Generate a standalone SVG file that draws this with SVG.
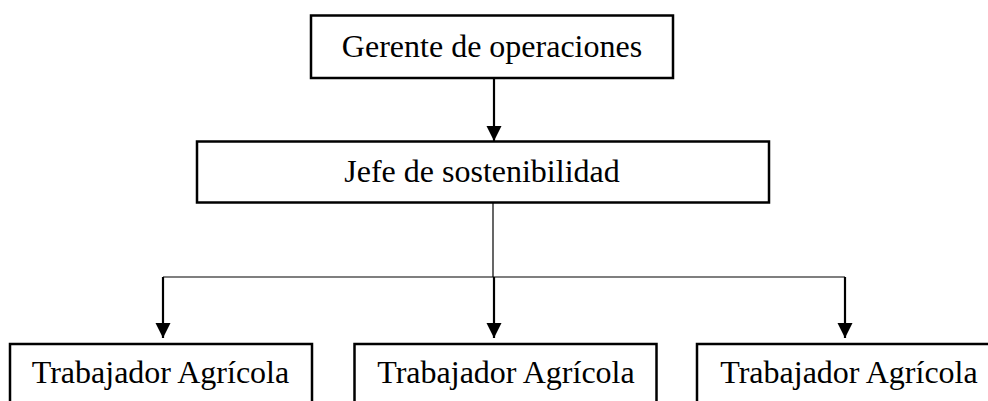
<svg xmlns="http://www.w3.org/2000/svg" width="988" height="401" viewBox="0 0 988 401">
<style>
.box{fill:#fff;stroke:#000;stroke-width:2.5}
.lbl{font-family:"Liberation Serif","Times New Roman",serif;font-size:32px;fill:#000;text-anchor:middle}
.thin{stroke:#000;stroke-width:1.2;fill:none}
.arr{stroke:#000;stroke-width:2.2;fill:none;marker-end:url(#ah)}
</style>
<defs>
<marker id="ah" markerUnits="userSpaceOnUse" markerWidth="16" markerHeight="16" refX="15" refY="7.5" orient="auto">
<path d="M0,0 L15,7.5 L0,15 Z" fill="#000"/>
</marker>
</defs>
<rect width="988" height="401" fill="#fff"/>
<g id="connectors">
<line class="arr" x1="494" y1="79" x2="494" y2="141"/>
<line class="thin" x1="493" y1="203" x2="493" y2="277"/>
<line class="thin" x1="163" y1="277" x2="845" y2="277"/>
<line class="arr" x1="163" y1="277" x2="163" y2="338"/>
<line class="arr" x1="494" y1="277" x2="494" y2="338"/>
<line class="arr" x1="845" y1="277" x2="845" y2="338"/>
</g>
<g id="gerente">
<rect class="box" x="311" y="15.5" width="362" height="62.5"/>
<text class="lbl" x="492" y="57">Gerente de operaciones</text>
</g>
<g id="jefe">
<rect class="box" x="197" y="141.5" width="572" height="61"/>
<text class="lbl" x="482" y="182">Jefe de sostenibilidad</text>
</g>
<g id="trabajador1">
<rect class="box" x="10" y="344" width="302" height="80"/>
<text class="lbl" x="160.5" y="383">Trabajador Agrícola</text>
</g>
<g id="trabajador2">
<rect class="box" x="354.5" y="344" width="302" height="80"/>
<text class="lbl" x="506" y="383">Trabajador Agrícola</text>
</g>
<g id="trabajador3">
<rect class="box" x="697" y="344" width="304" height="80"/>
<text class="lbl" x="849" y="383">Trabajador Agrícola</text>
</g>
</svg>
